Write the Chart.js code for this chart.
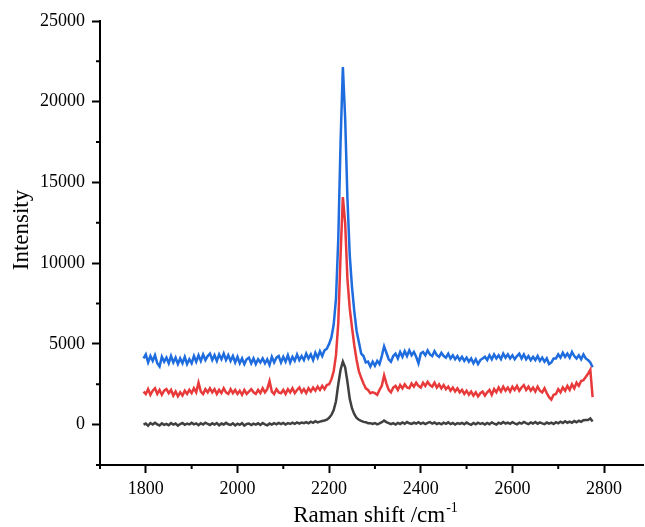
<!DOCTYPE html>
<html><head><meta charset="utf-8">
<script src="https://cdn.jsdelivr.net/npm/chart.js@4/dist/chart.umd.min.js"></script>
<style>html,body{margin:0;padding:0;background:#fff}#wrap{width:645px;height:527px;position:relative}</style>
</head><body><div id="wrap"><canvas id="c"></canvas></div>
<script>
const ramanShift = [
1795,1800,1805,1810,1815,1820,1825,1830,1835,1840,
1845,1850,1855,1860,1865,1870,1875,1880,1885,1890,
1895,1900,1905,1910,1915,1920,1925,1930,1935,1940,
1945,1950,1955,1960,1965,1970,1975,1980,1985,1990,
1995,2000,2005,2010,2015,2020,2025,2030,2035,2040,
2045,2050,2055,2060,2065,2070,2075,2080,2085,2090,
2095,2100,2105,2110,2115,2120,2125,2130,2135,2140,
2145,2150,2155,2160,2165,2170,2175,2180,2185,2190,
2195,2200,2205,2210,2215,2220,2225,2230,2235,2240,
2245,2250,2255,2260,2265,2270,2275,2280,2285,2290,
2295,2300,2305,2310,2315,2320,2325,2330,2335,2340,
2345,2350,2355,2360,2365,2370,2375,2380,2385,2390,
2395,2400,2405,2410,2415,2420,2425,2430,2435,2440,
2445,2450,2455,2460,2465,2470,2475,2480,2485,2490,
2495,2500,2505,2510,2515,2520,2525,2530,2535,2540,
2545,2550,2555,2560,2565,2570,2575,2580,2585,2590,
2595,2600,2605,2610,2615,2620,2625,2630,2635,2640,
2645,2650,2655,2660,2665,2670,2675,2680,2685,2690,
2695,2700,2705,2710,2715,2720,2725,2730,2735,2740,
2745,2750,2755,2760,2765,2770,2775];

const blueIntensity = [
4100,4350,3850,4250,3950,4300,3800,3600,4200,3900,
4150,3800,4250,3850,4150,3750,4100,3800,4200,3750,
4050,3800,4250,3900,4300,3950,4350,4000,4250,4400,
4000,4300,3950,4350,4050,4400,4000,4300,3950,4250,
3850,4200,3800,4100,3750,4050,4150,3800,4100,3750,
4050,3850,4100,3800,4050,3700,4200,3850,4150,4250,
3850,4200,3900,4300,3850,4200,3950,4350,4000,4250,
4000,4400,4100,4350,4000,4450,4150,4550,4250,4600,
4700,5000,5400,6200,7800,11500,17500,22150,19000,14000,
10500,8500,7000,5800,5100,4400,4250,3850,3900,3600,
3900,3650,3950,3750,4250,4850,4450,4050,3900,4250,
4400,4100,4500,4200,4550,4250,4600,4300,4500,4200,
3800,4400,4500,4300,4600,4350,4250,4550,4300,4200,
4450,4250,4150,4400,4100,4300,4050,4250,4000,4200,
3950,4150,3900,4100,3800,4050,3750,4000,4100,4200,
4000,4300,4050,4350,4100,4300,4050,4400,4150,4350,
4100,4300,4050,4250,4400,4100,4350,4050,4250,4000,
4200,4000,4250,3950,4150,3900,4100,3750,3850,4100,
4100,4350,4150,4450,4200,4400,4150,4500,4250,4100,
4300,4050,4350,4100,4000,3850,3550];

const redIntensity = [
2050,1900,2200,1850,2100,2250,1900,2150,1850,2100,
2200,1950,2150,1800,2050,1750,2000,1800,2100,1900,
2150,1950,2250,2000,2600,2050,1900,2200,2000,2250,
2000,2200,1900,2150,1950,2250,2000,1900,2200,1950,
2150,1900,2100,1850,2150,1900,2050,2200,2000,1900,
2150,1950,2250,2000,2200,2700,2050,1900,2200,2000,
1950,2150,1900,2200,2000,2250,1950,2150,2300,2000,
2200,1950,2250,2050,2300,2100,2350,2150,2400,2200,
2450,2500,2800,3300,4300,6300,10500,14100,12500,9000,
7200,6000,4900,4000,3300,2900,2550,2250,2150,1950,
2000,1950,1850,2150,2400,3050,2550,2150,2000,2300,
2400,2150,2450,2250,2500,2300,2250,2550,2350,2600,
2400,2300,2600,2400,2650,2450,2350,2600,2300,2500,
2250,2450,2200,2350,2100,2300,2050,2250,2000,2150,
1900,2100,1850,2050,1800,2000,1750,1950,2050,1800,
2000,2150,1850,2200,2000,2300,2050,2350,2100,2300,
2050,2350,2150,2400,2100,2300,2450,2150,2350,2100,
2300,2050,2350,2100,2000,2250,1950,1700,1550,1850,
1900,2200,2000,2300,2100,2400,2150,2500,2250,2600,
2400,2700,2750,2950,3150,3400,1700];

const blackIntensity = [
0,70,-70,100,10,120,20,-50,80,-10,
50,-40,90,0,70,-60,40,100,-10,60,
10,110,20,80,-30,90,10,120,40,-20,
80,0,100,-40,70,10,110,20,-20,80,
-50,60,-10,90,-60,40,70,-30,60,0,
80,-20,100,20,-40,70,0,90,20,110,
30,110,10,90,40,120,50,140,70,130,
90,160,80,180,110,210,140,190,230,260,
310,420,600,900,1450,2500,3400,3900,3550,2650,
1600,1000,650,420,300,230,170,150,90,90,
40,100,20,80,150,250,160,100,30,90,
10,110,40,140,60,160,80,50,130,70,
150,50,120,30,110,160,60,130,40,100,
20,120,50,140,30,100,10,90,40,110,
30,130,50,-10,100,20,120,40,90,10,
110,30,140,60,10,120,50,160,70,130,
50,150,80,20,120,60,170,90,30,130,
70,160,50,140,80,30,130,60,120,40,
150,80,180,100,210,120,190,110,220,150,
240,170,270,290,290,380,200];

const xMajorTicks = [1800,2000,2200,2400,2600,2800];
const xMinorTicks = [1700,1900,2100,2300,2500,2700];
const yMajorTicks = [0,5000,10000,15000,20000,25000];
const yMinorTicks = [-2500,2500,7500,12500,17500,22500];
const xTitle = 'Raman shift /cm';
const xTitleSup = '-1';
const yTitle = 'Intensity';

const pts = arr => arr.map((v,i)=>({x: ramanShift[i], y: v}));
const serif = 'Liberation Serif, Times New Roman, serif';

const extras = {
  id: 'extras',
  afterDraw(chart){
    const {ctx, chartArea:a, scales:{x, y}} = chart;
    ctx.save();
    ctx.strokeStyle = '#000';
    ctx.lineWidth = 2;
    ctx.beginPath();
    xMinorTicks.forEach(v=>{ const px = x.getPixelForValue(v); ctx.moveTo(px, a.bottom); ctx.lineTo(px, a.bottom+4); });
    yMinorTicks.forEach(v=>{ const py = y.getPixelForValue(v); ctx.moveTo(a.left, py); ctx.lineTo(a.left-4, py); });
    ctx.stroke();
    ctx.fillStyle = '#000';
    ctx.font = '23px ' + serif;
    const w1 = ctx.measureText(xTitle).width;
    ctx.font = '14px ' + serif;
    const w2 = ctx.measureText(xTitleSup).width;
    const cx = 375, base = 522;
    const sx = cx - (w1 + w2)/2;
    ctx.textBaseline = 'alphabetic';
    ctx.textAlign = 'left';
    ctx.font = '23px ' + serif;
    ctx.fillText(xTitle, sx, base);
    ctx.font = '14px ' + serif;
    ctx.fillText(xTitleSup, sx + w1 + 1, base - 10);
    ctx.translate(22, 230);
    ctx.rotate(-Math.PI/2);
    ctx.font = '23px ' + serif;
    ctx.textAlign = 'center';
    ctx.textBaseline = 'middle';
    ctx.fillText(yTitle, 0, 0);
    ctx.restore();
  }
};

new Chart(document.getElementById('c'), {
  type: 'line',
  data: {
    datasets: [
      { label: 'Sample C', data: pts(blackIntensity), borderColor: 'rgb(64,64,64)', borderWidth: 2.5, pointRadius: 0, tension: 0 },
      { label: 'Sample B', data: pts(redIntensity), borderColor: 'rgb(232,58,58)', borderWidth: 2.5, pointRadius: 0, tension: 0 },
      { label: 'Sample A', data: pts(blueIntensity), borderColor: 'rgb(30,108,222)', borderWidth: 2.5, pointRadius: 0, tension: 0 }
    ]
  },
  options: {
    responsive: true,
    maintainAspectRatio: false,
    animation: false,
    devicePixelRatio: 1,
    layout: { padding: { top: 21, right: 2, left: 0, bottom: 0 } },
    plugins: { legend: { display: false }, tooltip: { enabled: false } },
    scales: {
      x: {
        type: 'linear', min: 1700, max: 2885,
        afterBuildTicks: s => { s.ticks = xMajorTicks.map(v=>({value:v})); },
        afterFit: s => { s.height = 62; },
        grid: { drawOnChartArea: false, drawTicks: true, tickLength: 8, tickWidth: 2, tickColor: '#000' },
        border: { display: true, color: '#000', width: 2 },
        ticks: { font: { family: serif, size: 18 }, color: '#000', padding: 5, maxRotation: 0, autoSkip: false, callback: v => String(v) }
      },
      y: {
        type: 'linear', min: -2500, max: 25000,
        afterBuildTicks: s => { s.ticks = yMajorTicks.map(v=>({value:v})); },
        afterFit: s => { s.width = 100; },
        grid: { drawOnChartArea: false, drawTicks: true, tickLength: 8, tickWidth: 2, tickColor: '#000' },
        border: { display: true, color: '#000', width: 2 },
        ticks: { font: { family: serif, size: 18 }, color: '#000', padding: 7, autoSkip: false, callback: v => String(v) }
      }
    }
  },
  plugins: [extras]
});
</script>
</body></html>
